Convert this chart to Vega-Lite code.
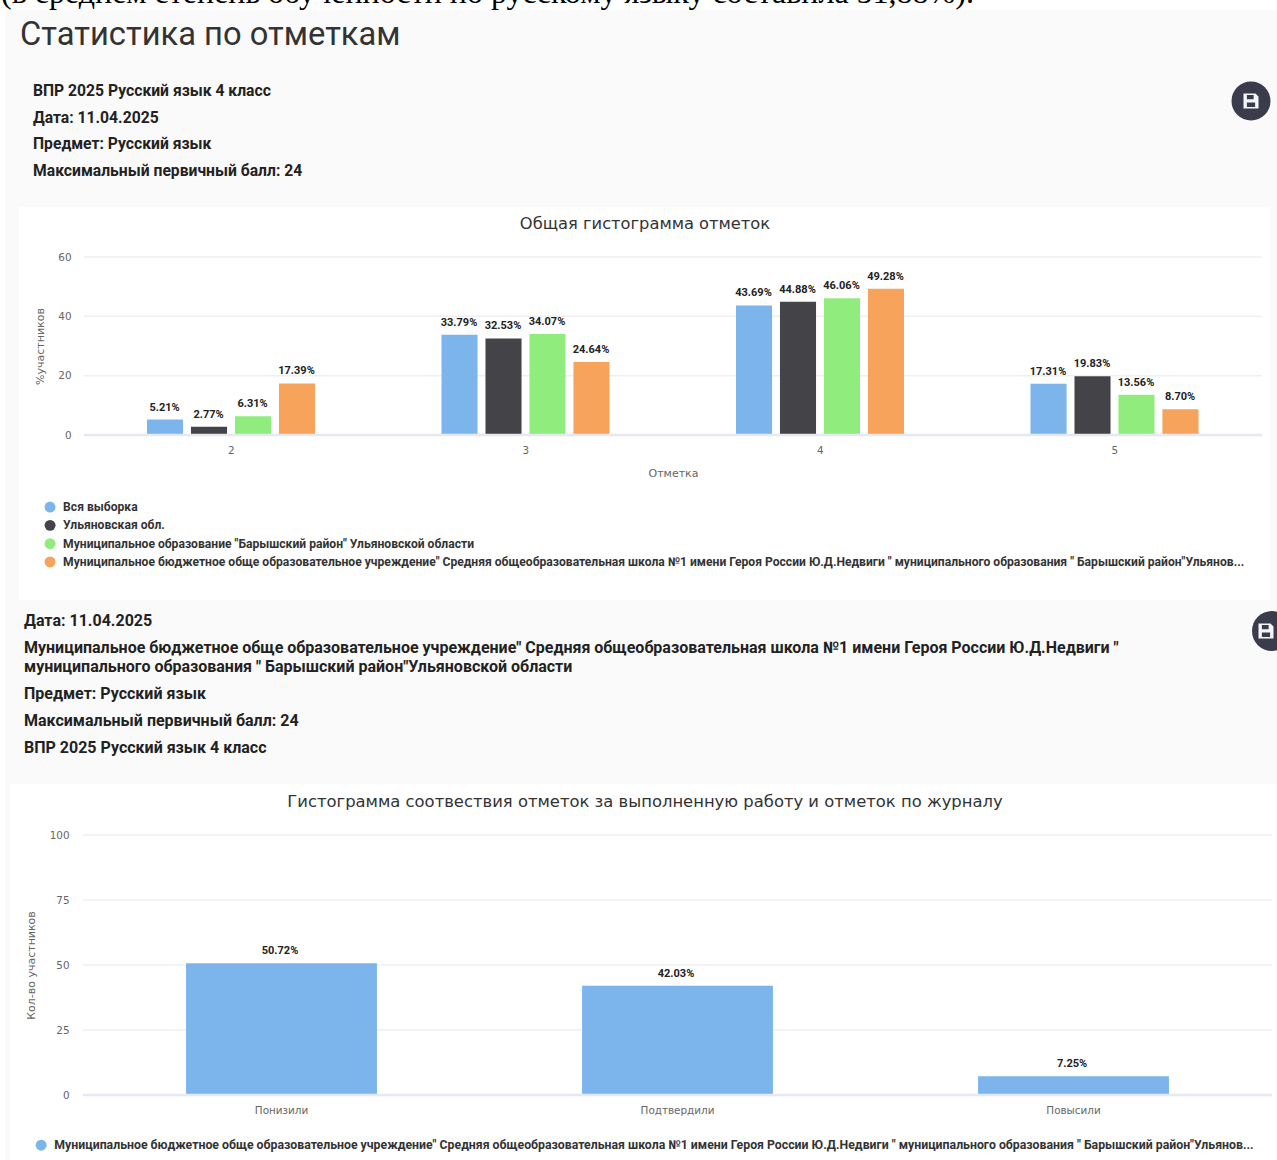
{"$schema":"https://vega.github.io/schema/vega-lite/v6.json","width":1277,"height":1160,"padding":0,"autosize":{"type":"none"},"background":"#ffffff","config":{"view":{"stroke":null},"axis":{"grid":false,"domain":false,"ticks":false,"labelColor":"#666666","titleColor":"#666666","labelFont":"DejaVu Sans","titleFont":"DejaVu Sans","labelFontSize":10.4,"titleFontSize":11,"titleFontWeight":"normal","labelAngle":0},"legend":{"orient":"none","title":null,"symbolType":"circle","symbolSize":120,"symbolStrokeWidth":0,"labelFont":"Roboto","labelFontWeight":"bold","labelColor":"#333333","labelLimit":1300,"labelOffset":7,"columns":1,"padding":0}},
"datasets":{"marks":[
{"grade":"2","series":"Вся выборка","value":5.21,"label":"5.21%"},{"grade":"2","series":"Ульяновская обл.","value":2.77,"label":"2.77%"},{"grade":"2","series":"Муниципальное образование \"Барышский район\" Ульяновской области","value":6.31,"label":"6.31%"},{"grade":"2","series":"Муниципальное бюджетное обще образовательное учреждение\" Средняя общеобразовательная школа №1 имени Героя России Ю.Д.Недвиги \" муниципального образования \" Барышский район\"Ульянов...","value":17.39,"label":"17.39%"},
{"grade":"3","series":"Вся выборка","value":33.79,"label":"33.79%"},{"grade":"3","series":"Ульяновская обл.","value":32.53,"label":"32.53%"},{"grade":"3","series":"Муниципальное образование \"Барышский район\" Ульяновской области","value":34.07,"label":"34.07%"},{"grade":"3","series":"Муниципальное бюджетное обще образовательное учреждение\" Средняя общеобразовательная школа №1 имени Героя России Ю.Д.Недвиги \" муниципального образования \" Барышский район\"Ульянов...","value":24.64,"label":"24.64%"},
{"grade":"4","series":"Вся выборка","value":43.69,"label":"43.69%"},{"grade":"4","series":"Ульяновская обл.","value":44.88,"label":"44.88%"},{"grade":"4","series":"Муниципальное образование \"Барышский район\" Ульяновской области","value":46.06,"label":"46.06%"},{"grade":"4","series":"Муниципальное бюджетное обще образовательное учреждение\" Средняя общеобразовательная школа №1 имени Героя России Ю.Д.Недвиги \" муниципального образования \" Барышский район\"Ульянов...","value":49.28,"label":"49.28%"},
{"grade":"5","series":"Вся выборка","value":17.31,"label":"17.31%"},{"grade":"5","series":"Ульяновская обл.","value":19.83,"label":"19.83%"},{"grade":"5","series":"Муниципальное образование \"Барышский район\" Ульяновской области","value":13.56,"label":"13.56%"},{"grade":"5","series":"Муниципальное бюджетное обще образовательное учреждение\" Средняя общеобразовательная школа №1 имени Героя России Ю.Д.Недвиги \" муниципального образования \" Барышский район\"Ульянов...","value":8.70,"label":"8.70%"}],
"journal":[{"cat":"Понизили","series":"Муниципальное бюджетное обще образовательное учреждение\" Средняя общеобразовательная школа №1 имени Героя России Ю.Д.Недвиги \" муниципального образования \" Барышский район\"Ульянов...","value":50.72,"label":"50.72%"},{"cat":"Подтвердили","series":"Муниципальное бюджетное обще образовательное учреждение\" Средняя общеобразовательная школа №1 имени Героя России Ю.Д.Недвиги \" муниципального образования \" Барышский район\"Ульянов...","value":42.03,"label":"42.03%"},{"cat":"Повысили","series":"Муниципальное бюджетное обще образовательное учреждение\" Средняя общеобразовательная школа №1 имени Героя России Ю.Д.Недвиги \" муниципального образования \" Барышский район\"Ульянов...","value":7.25,"label":"7.25%"}],
"head1":[{"row":0,"t":"ВПР 2025 Русский язык 4 класс"},{"row":1,"t":"Дата: 11.04.2025"},{"row":2,"t":"Предмет: Русский язык"},{"row":3,"t":"Максимальный первичный балл: 24"}],
"head2":[{"row":0,"t":"Дата: 11.04.2025"},{"row":1,"t":"Муниципальное бюджетное обще образовательное учреждение\" Средняя общеобразовательная школа №1 имени Героя России Ю.Д.Недвиги \"\nмуниципального образования \" Барышский район\"Ульяновской области"},{"row":2,"t":"Предмет: Русский язык"},{"row":3,"t":"Максимальный первичный балл: 24"},{"row":4,"t":"ВПР 2025 Русский язык 4 класс"}],
"one":[{"n":0}],
"grid1":[{"tick":20},{"tick":40},{"tick":60}],"grid2":[{"tick":25},{"tick":50},{"tick":75},{"tick":100}]},
"resolve":{"scale":{"x":"independent","y":"independent","color":"independent","xOffset":"independent"},"axis":{"x":"independent","y":"independent"},"legend":{"color":"independent"}},
"layer":[
{"data":{"name":"one"},"mark":{"type":"text","font":"Liberation Serif","fontSize":32,"align":"left","baseline":"alphabetic","color":"#000000","text":"(в среднем степень обученности по русскому языку составила 51,88%)."},"encoding":{"x":{"datum":0,"scale":{"domain":[0,1],"range":[1,2]},"axis":null},"y":{"datum":0,"scale":{"domain":[0,1],"range":[3,4]},"axis":null}}},
{"data":{"name":"one"},"mark":{"type":"rect","color":"#fafafa"},"encoding":{"x":{"datum":0,"scale":{"domain":[0,1],"range":[5,1277]},"axis":null},"x2":{"datum":1},"y":{"datum":0,"scale":{"domain":[0,1],"range":[10,1160]},"axis":null},"y2":{"datum":1}}},
{"data":{"name":"one"},"mark":{"type":"rect","color":"#ffffff"},"encoding":{"x":{"datum":0,"scale":{"domain":[0,1],"range":[19,1270]},"axis":null},"x2":{"datum":1},"y":{"datum":0,"scale":{"domain":[0,1],"range":[207,600]},"axis":null},"y2":{"datum":1}}},
{"data":{"name":"one"},"mark":{"type":"rect","color":"#ffffff"},"encoding":{"x":{"datum":0,"scale":{"domain":[0,1],"range":[10,1277]},"axis":null},"x2":{"datum":1},"y":{"datum":0,"scale":{"domain":[0,1],"range":[784,1160]},"axis":null},"y2":{"datum":1}}},
{"data":{"name":"one"},"mark":{"type":"text","font":"Roboto","fontSize":32.7,"align":"left","baseline":"alphabetic","color":"#333333","text":"Статистика по отметкам"},"encoding":{"x":{"datum":0,"scale":{"domain":[0,1],"range":[20,21]},"axis":null},"y":{"datum":0,"scale":{"domain":[0,1],"range":[45,46]},"axis":null}}},
{"data":{"name":"head1"},"mark":{"type":"text","font":"Roboto","fontSize":15.7,"fontWeight":"bold","align":"left","baseline":"alphabetic","color":"#222222"},"encoding":{"text":{"field":"t"},"x":{"datum":0,"scale":{"domain":[0,1],"range":[33,34]},"axis":null},"y":{"field":"row","type":"quantitative","scale":{"domain":[0,3],"range":[96,176]},"axis":null}}},
{"data":{"name":"head2"},"mark":{"type":"text","font":"Roboto","fontSize":16,"fontWeight":"bold","align":"left","baseline":"alphabetic","color":"#222222","lineBreak":"\n","lineHeight":19},"encoding":{"text":{"field":"t"},"x":{"datum":0,"scale":{"domain":[0,1],"range":[24,25]},"axis":null},"y":{"field":"row","type":"quantitative","scale":{"domain":[0,1,2,3,4],"range":[626,653,699,726,753]},"axis":null}}},
{"data":{"name":"one"},"mark":{"type":"point","shape":"circle","size":1521,"filled":true,"color":"#3a3b4b","opacity":1},"encoding":{"x":{"datum":0,"scale":{"domain":[0,1],"range":[1251,1252]},"axis":null},"y":{"datum":0,"scale":{"domain":[0,1],"range":[101,102]},"axis":null}}},
{"data":{"name":"one"},"mark":{"type":"point","shape":"M-1,-1 H0.6 L1,-0.6 V1 H-1 Z M-0.55,-0.8 V-0.25 H0.35 V-0.8 Z M-0.55,0.2 V0.8 H0.55 V0.2 Z","size":225,"filled":true,"color":"#f4f6fa","opacity":1},"encoding":{"x":{"datum":0,"scale":{"domain":[0,1],"range":[1251,1252]},"axis":null},"y":{"datum":0,"scale":{"domain":[0,1],"range":[101,102]},"axis":null}}},
{"data":{"name":"one"},"mark":{"type":"point","shape":"circle","size":1600,"filled":true,"color":"#3a3b4b","opacity":1},"encoding":{"x":{"datum":0,"scale":{"domain":[0,1],"range":[1272,1273]},"axis":null},"y":{"datum":0,"scale":{"domain":[0,1],"range":[631,632]},"axis":null}}},
{"data":{"name":"one"},"mark":{"type":"point","shape":"M-1,-1 H0.6 L1,-0.6 V1 H-1 Z M-0.55,-0.8 V-0.25 H0.35 V-0.8 Z M-0.55,0.2 V0.8 H0.55 V0.2 Z","size":225,"filled":true,"color":"#f4f6fa","opacity":1},"encoding":{"x":{"datum":0,"scale":{"domain":[0,1],"range":[1266,1267]},"axis":null},"y":{"datum":0,"scale":{"domain":[0,1],"range":[631,632]},"axis":null}}},
{"data":{"name":"one"},"mark":{"type":"text","font":"DejaVu Sans","fontSize":16.3,"align":"center","baseline":"middle","color":"#333333","text":"Общая гистограмма отметок"},"encoding":{"x":{"datum":0,"scale":{"domain":[0,1],"range":[645,646]},"axis":null},"y":{"datum":0,"scale":{"domain":[0,1],"range":[224,225]},"axis":null}}},
{"data":{"name":"one"},"mark":{"type":"text","font":"DejaVu Sans","fontSize":16.4,"align":"center","baseline":"middle","color":"#333333","text":"Гистограмма соотвествия отметок за выполненную работу и отметок по журналу"},"encoding":{"x":{"datum":0,"scale":{"domain":[0,1],"range":[645,646]},"axis":null},"y":{"datum":0,"scale":{"domain":[0,1],"range":[802,803]},"axis":null}}},
{"data":{"name":"grid1"},"mark":{"type":"rule","color":"#eeeff3","strokeWidth":1.5},"encoding":{"x":{"datum":0,"scale":{"domain":[0,1],"range":[84,1262]},"axis":null},"x2":{"datum":1},"y":{"field":"tick","type":"quantitative","scale":{"domain":[0,60],"range":[435,257]},"axis":null}}},
{"data":{"name":"grid2"},"mark":{"type":"rule","color":"#eeeff3","strokeWidth":1.5},"encoding":{"x":{"datum":0,"scale":{"domain":[0,1],"range":[83,1272]},"axis":null},"x2":{"datum":1},"y":{"field":"tick","type":"quantitative","scale":{"domain":[0,100],"range":[1095,835]},"axis":null}}},
{"data":{"name":"marks"},"mark":{"type":"bar"},"encoding":{"x":{"field":"grade","type":"nominal","title":"Отметка","scale":{"range":[84,1262],"paddingInner":0,"paddingOuter":0},"axis":{"zindex":1,"orient":"bottom","offset":-725,"labelPadding":10,"titlePadding":12,"labelFlush":false}},"xOffset":{"field":"series","type":"nominal","sort":null,"scale":{"range":[63,231],"paddingInner":0.18,"paddingOuter":0}},"y":{"field":"value","type":"quantitative","title":"%участников","scale":{"domain":[0,60],"range":[435,257]},"axis":{"zindex":1,"orient":"left","offset":-71,"values":[0,20,40,60],"labelPadding":0,"titlePadding":12}},"color":{"field":"series","type":"nominal","sort":null,"scale":{"domain":["Вся выборка","Ульяновская обл.","Муниципальное образование \"Барышский район\" Ульяновской области","Муниципальное бюджетное обще образовательное учреждение\" Средняя общеобразовательная школа №1 имени Героя России Ю.Д.Недвиги \" муниципального образования \" Барышский район\"Ульянов..."],"range":["#7cb5ec","#434348","#90ed7d","#f7a35c"]},"legend":{"legendX":44,"legendY":501,"rowPadding":5.3,"labelFontSize":12.12}}}},
{"data":{"name":"marks"},"mark":{"type":"text","font":"Roboto","fontSize":11,"fontWeight":"bold","color":"#222222","baseline":"alphabetic","dy":-9},"encoding":{"x":{"field":"grade","type":"nominal","scale":{"range":[84,1262],"paddingInner":0,"paddingOuter":0},"axis":null},"xOffset":{"field":"series","type":"nominal","sort":null,"scale":{"range":[58.5,234.5]}},"y":{"field":"value","type":"quantitative","scale":{"domain":[0,60],"range":[435,257]},"axis":null},"text":{"field":"label"}}},
{"data":{"name":"journal"},"mark":{"type":"bar"},"encoding":{"x":{"field":"cat","type":"nominal","sort":null,"title":null,"scale":{"range":[83.5,1271.5],"paddingInner":0.518,"paddingOuter":0.259},"axis":{"zindex":1,"orient":"bottom","offset":-65,"labelPadding":10,"labelFlush":false}},"y":{"field":"value","type":"quantitative","title":"Кол-во участников","scale":{"domain":[0,100],"range":[1095,835]},"axis":{"zindex":1,"orient":"left","offset":-69,"values":[0,25,50,75,100],"labelPadding":0,"titlePadding":13}},"color":{"field":"series","type":"nominal","scale":{"range":["#7cb5ec"]},"legend":{"legendX":35,"legendY":1139,"labelFontSize":12.3}}}},
{"data":{"name":"journal"},"mark":{"type":"text","font":"Roboto","fontSize":11,"fontWeight":"bold","color":"#222222","baseline":"alphabetic","dy":-9,"dx":-1.5},"encoding":{"x":{"field":"cat","type":"nominal","sort":null,"scale":{"range":[83.5,1271.5],"paddingInner":0.518,"paddingOuter":0.259},"axis":null},"y":{"field":"value","type":"quantitative","scale":{"domain":[0,100],"range":[1095,835]},"axis":null},"text":{"field":"label"}}},
{"data":{"name":"one"},"mark":{"type":"rule","color":"#e6e8f2","strokeWidth":2.5},"encoding":{"x":{"datum":0,"scale":{"domain":[0,1],"range":[84,1262]},"axis":null},"x2":{"datum":1},"y":{"datum":0,"scale":{"domain":[0,1],"range":[435,436]},"axis":null}}},
{"data":{"name":"one"},"mark":{"type":"rule","color":"#e6e8f2","strokeWidth":2.5},"encoding":{"x":{"datum":0,"scale":{"domain":[0,1],"range":[83,1272]},"axis":null},"x2":{"datum":1},"y":{"datum":0,"scale":{"domain":[0,1],"range":[1095,1096]},"axis":null}}}
]}
